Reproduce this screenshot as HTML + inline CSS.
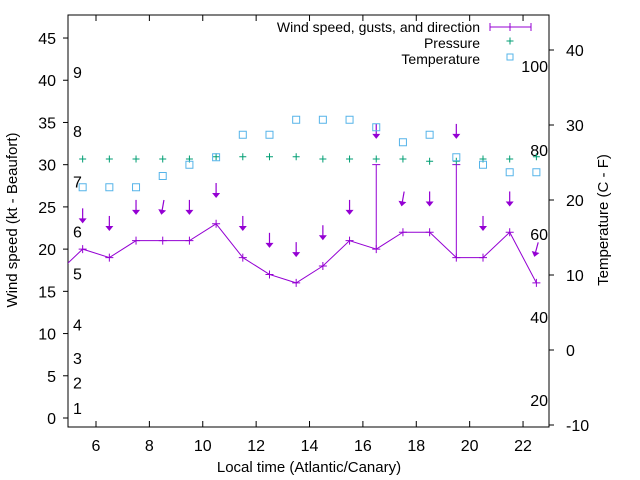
<!DOCTYPE html>
<html><head><meta charset="utf-8"><style>
body{margin:0;background:#fff}
svg{display:block;font-family:"Liberation Sans",sans-serif}
</style></head><body>
<svg id="chart" width="640" height="480" viewBox="0 0 640 480">
<g id="axes"></g><g id="marks"></g><g id="legend"></g>
</svg>
<script>
const hours=[4.5,5.5,6.5,7.5,8.5,9.5,10.5,11.5,12.5,13.5,14.5,15.5,16.5,17.5,18.5,19.5,20.5,21.5,22.5];
const windSpeed=[17,20,19,21,21,21,23,19,17,16,18,21,20,22,22,19,19,22,16];
const gusts=[null,null,null,null,null,null,null,null,null,null,null,null,30,null,null,30,null,null,null];
const arrowLevel=[null,24,23.1,25,25,25,27,23.1,21.1,20,22,25,34,26,26,34,23.1,26,20];
const windDir=[null,0,0,0,10,0,0,0,0,0,0,0,0,10,0,0,0,0,15];
const pressure=[null,1017,1017,1017,1017,1017,1018,1018,1018,1018,1017,1017,1017,1017,1016,1016,1017,1017,1018];
const temperature=[null,21.7,21.7,21.7,23.2,24.7,25.7,28.7,28.7,30.7,30.7,30.7,29.7,27.7,28.7,25.7,24.7,23.7,23.7];
const xTicks=[6,8,10,12,14,16,18,20,22];
const yTicks=[0,5,10,15,20,25,30,35,40,45];
const tTicks=[-10,0,10,20,30,40];
const beaufort=[[1,1.2],[2,4.2],[3,7.1],[4,11.1],[5,17.1],[6,22.1],[7,28],[8,34],[9,41]];
const fahr=[[20,400],[40,317],[60,234],[80,150],[100,66]];

const L=68,R=549,T=15,B=427;
const X=t=>96+(t-6)*26.69;
const Y=v=>418-v*8.444;
const TY=c=>350-7.5*c;
const PY=p=>159-(p-1017)*2.3;
const NS="http://www.w3.org/2000/svg";
function mk(tag,attrs,parent,txt){const e=document.createElementNS(NS,tag);for(const k in attrs)e.setAttribute(k,attrs[k]);if(txt!==undefined)e.textContent=txt;parent.appendChild(e);return e;}
const axes=document.getElementById('axes'),marks=document.getElementById('marks'),leg=document.getElementById('legend');

let e=mk('rect',{x:L,y:T,width:R-L,height:B-T,fill:'none',stroke:'#000','stroke-width':1},axes);

xTicks.forEach(t=>{
  mk('line',{x1:X(t),x2:X(t),y1:B,y2:B-6,stroke:'#000'},axes);
  mk('line',{x1:X(t),x2:X(t),y1:T,y2:T+6,stroke:'#000'},axes);
  e=mk('text',{x:X(t),y:451,'text-anchor':'middle','font-size':16},axes,String(t));
  
});
yTicks.forEach(v=>{
  mk('line',{x1:L,x2:L-5,y1:Y(v),y2:Y(v),stroke:'#000'},axes);
  e=mk('text',{x:56,y:Y(v)+6,'text-anchor':'end','font-size':16},axes,String(v));
  
});
tTicks.forEach(v=>{
  mk('line',{x1:R,x2:R+5,y1:TY(v),y2:TY(v),stroke:'#000'},axes);
  e=mk('text',{x:566,y:TY(v)+6,'font-size':16},axes,String(v));
  
});
beaufort.forEach(b=>{
  e=mk('text',{x:73,y:Y(b[1])+6,'font-size':16},axes,String(b[0]));
  
});
fahr.forEach(f=>{
  e=mk('text',{x:548,y:f[1]+6,'text-anchor':'end','font-size':16},axes,String(f[0]));
  
});
e=mk('text',{x:309,y:472,'text-anchor':'middle','font-size':15},axes,'Local time (Atlantic/Canary)');

e=mk('text',{x:0,y:0,'text-anchor':'middle','font-size':15,transform:'translate(17,220) rotate(-90)'},axes,'Wind speed (kt - Beaufort)');

e=mk('text',{x:0,y:0,'text-anchor':'middle','font-size':15,transform:'translate(608,220) rotate(-90)'},axes,'Temperature (C - F)');


const defs=mk('defs',{},document.getElementById('chart'));
const cp=mk('clipPath',{id:'clip'},defs);mk('rect',{x:L,y:T,width:R-L,height:B-T},cp);
marks.setAttribute('clip-path','url(#clip)');
const purple='#9400d3';
function plus(x,y,c,s){mk('path',{d:`M${x-s},${y}h${2*s}M${x},${y-s}v${2*s}`,stroke:c,'stroke-width':1},marks);}
// wind line
let pts=hours.map((h,i)=>X(h)+','+Y(windSpeed[i])).join(' ');
e=mk('polyline',{points:pts,fill:'none',stroke:purple,'stroke-width':1},marks);

hours.forEach((h,i)=>{
  plus(X(h),Y(windSpeed[i]),purple,4);
  if(gusts[i]!==null){
    e=mk('path',{d:`M${X(h)},${Y(windSpeed[i])}V${Y(gusts[i])}M${X(h)-4},${Y(gusts[i])}h8`,stroke:purple,fill:'none'},marks);
    
  }
  if(arrowLevel[i]!==null){
    const g=mk('g',{transform:`translate(${X(h)},${Y(arrowLevel[i])}) rotate(${windDir[i]})`},marks);
    
    mk('line',{x1:0,y1:-7,x2:0,y2:6,stroke:purple,'stroke-width':1.2},g);
    mk('path',{d:'M-4,3L4,3L0,8Z',fill:purple},g);
  }
  if(pressure[i]!==null){plus(X(h),PY(pressure[i]),'#009e73',3.5);}
  if(temperature[i]!==null){
    e=mk('rect',{x:X(h)-3.5,y:TY(temperature[i])-3.5,width:7,height:7,fill:'none',stroke:'#56b4e9','stroke-width':1},marks);
    
  }
});
// legend
const lt=[['Wind speed, gusts, and direction',27],['Pressure',43],['Temperature',59]];
lt.forEach(l=>{e=mk('text',{x:480,y:l[1]+5,'text-anchor':'end','font-size':14},leg,l[0]);
});
mk('path',{d:'M490,27H531M490,23v8M531,23v8M510,23v8',stroke:purple,fill:'none'},leg);
mk('path',{d:'M506.5,41h7M510,37.5v7',stroke:'#009e73'},leg);
mk('rect',{x:507,y:54,width:6,height:6,fill:'none',stroke:'#56b4e9'},leg);
</script>
</body></html>
